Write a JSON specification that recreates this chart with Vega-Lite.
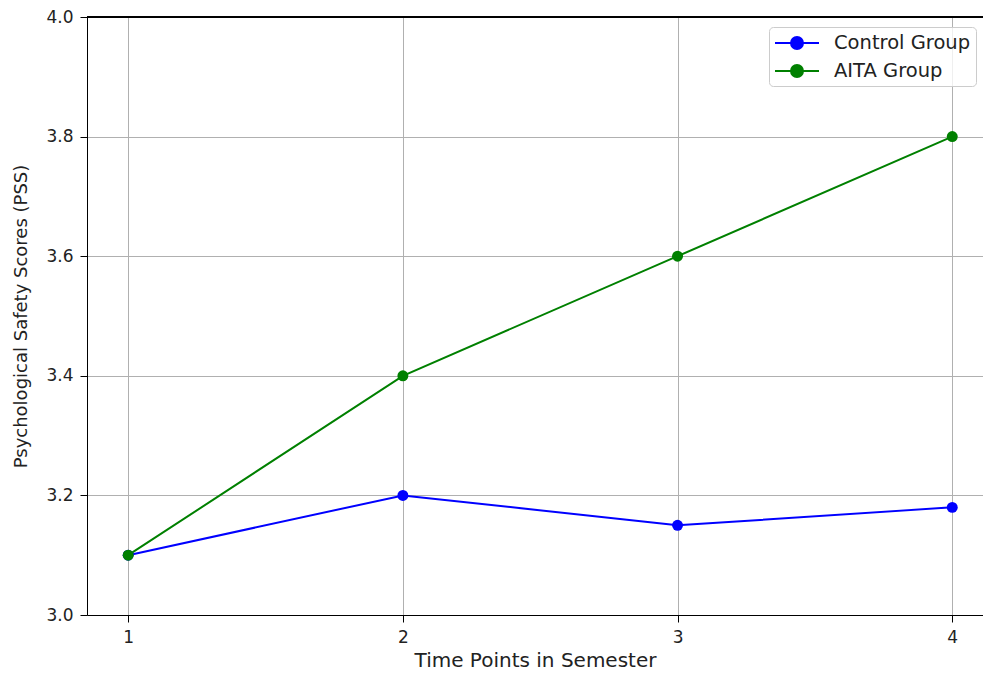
{
  "$schema": "https://vega.github.io/schema/vega-lite/v6.json",
  "width": 896,
  "height": 598,
  "autosize": {"type": "none"},
  "padding": {"left": 87, "top": 17, "right": 0, "bottom": 58},
  "background": "white",
  "config": {
    "font": "DejaVu Sans",
    "view": {"stroke": null},
    "axis": {
      "grid": true,
      "gridColor": "#b0b0b0",
      "gridWidth": 1,
      "domainColor": "#000000",
      "domainWidth": 1,
      "tickColor": "#000000",
      "tickSize": 7,
      "tickWidth": 1,
      "labelFontSize": 17,
      "labelColor": "#222222",
      "labelPadding": 7,
      "titleFontSize": 19,
      "titleFontWeight": "normal",
      "titleColor": "#222222"
    }
  },
  "data": {
    "values": [
      {"t": 1, "score": 3.1, "group": "Control Group"},
      {"t": 2, "score": 3.2, "group": "Control Group"},
      {"t": 3, "score": 3.15, "group": "Control Group"},
      {"t": 4, "score": 3.18, "group": "Control Group"},
      {"t": 1, "score": 3.1, "group": "AITA Group"},
      {"t": 2, "score": 3.4, "group": "AITA Group"},
      {"t": 3, "score": 3.6, "group": "AITA Group"},
      {"t": 4, "score": 3.8, "group": "AITA Group"}
    ]
  },
  "encoding": {
    "x": {
      "field": "t",
      "type": "quantitative",
      "scale": {"domain": [0.85, 4.112], "nice": false, "zero": false},
      "axis": {"values": [1, 2, 3, 4], "format": "d", "title": "Time Points in Semester", "titlePadding": 5, "titleFontSize": 20}
    },
    "y": {
      "field": "score",
      "type": "quantitative",
      "scale": {"domain": [3, 4], "nice": false, "zero": false},
      "axis": {"values": [3, 3.2, 3.4, 3.6, 3.8, 4], "format": ".1f", "title": "Psychological Safety Scores (PSS)", "titlePadding": 15, "titleFontSize": 18}
    },
    "color": {
      "field": "group",
      "type": "nominal",
      "scale": {"domain": ["Control Group", "AITA Group"], "range": ["#0000ff", "#008000"]},
      "legend": {
        "title": null,
        "orient": "none",
        "legendX": 682,
        "legendY": 10,
        "strokeColor": "#cccccc",
        "fillColor": "rgba(255,255,255,0.8)",
        "cornerRadius": 4,
        "padding": 5,
        "symbolType": "M-1,0L3.4,0M0.6,0A0.6,0.6 0 1,0 1.8,0A0.6,0.6 0 1,0 0.6,0Z",
        "symbolSize": 400,
        "symbolStrokeWidth": 2,
        "labelFontSize": 19.5,
        "labelColor": "#222222",
        "labelOffset": 38,
        "rowPadding": 7,
        "encode": {
          "symbols": {
            "update": {
              "fill": {"scale": "color", "field": "value"},
              "stroke": {"scale": "color", "field": "value"},
              "opacity": {"value": 1}
            }
          }
        }
      }
    }
  },
  "layer": [
    {
      "mark": {"type": "rule", "color": "#000000", "strokeWidth": 1},
      "encoding": {"y": {"datum": 4}, "x": null, "color": null}
    },
    {
      "mark": {"type": "line", "strokeWidth": 2, "clip": true}
    },
    {
      "mark": {"type": "point", "filled": true, "opacity": 1, "size": 120, "shape": "circle"}
    }
  ]
}
